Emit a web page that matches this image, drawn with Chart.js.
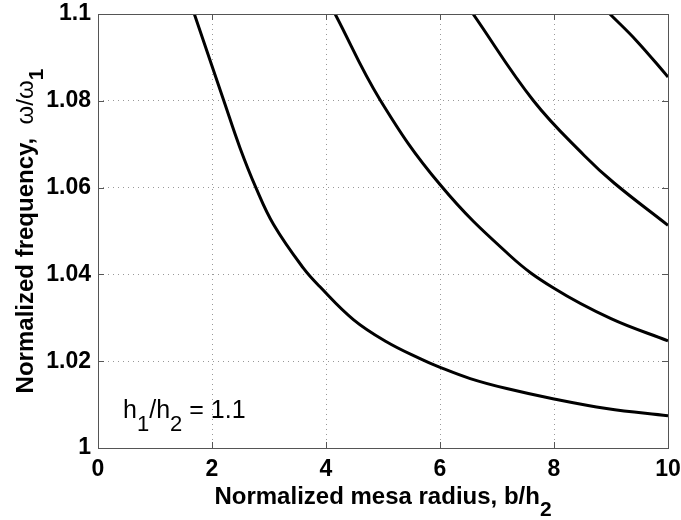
<!DOCTYPE html>
<html>
<head>
<meta charset="utf-8">
<script src="https://cdn.jsdelivr.net/npm/chart.js@4.4.0/dist/chart.umd.min.js"></script>
<style>
  html, body { margin: 0; padding: 0; background: #fff; }
</style>
</head>
<body>
<canvas id="modeChart" width="681" height="520"></canvas>
<script>
// normalized mesa radius b/h2 vs normalized frequency w/w1, one array pair per mode
const mode1X = [1.69, 2.0, 2.2, 2.49, 2.77, 3.08, 3.6, 3.89, 4.48, 5.06, 5.65, 5.98, 6.53, 7.17, 8.0, 8.92, 10];
const mode1Y = [1.1, 1.088, 1.0803, 1.0692, 1.06, 1.0515, 1.0415, 1.0372, 1.0296, 1.0245, 1.0206, 1.0187, 1.016, 1.0137, 1.0113, 1.0091, 1.0074];

const mode2X = [4.16, 4.95, 6.0, 7.23, 8.0, 9.0, 10];
const mode2Y = [1.1, 1.0802, 1.0607, 1.0443, 1.0368, 1.0298, 1.0247];

const mode3X = [6.58, 7.64, 8.53, 9.06, 10];
const mode3Y = [1.1, 1.08, 1.0674, 1.061, 1.0513];

const mode4X = [8.98, 9.45, 10];
const mode4Y = [1.1, 1.0938, 1.0855];

const xTicks = [0, 2, 4, 6, 8, 10];
const yTicks = [1, 1.02, 1.04, 1.06, 1.08, 1.1];

// text pieces: [text, isSubscript, weight]
const xTitle = [["Normalized mesa radius, b/h", false], ["2", true]];
const yTitle = [["Normalized frequency,  ", false], ["\u03c9/\u03c9", false, "normal"], ["1", true]];
const noteText = [["h", false], ["1", true], ["/h", false], ["2", true], [" = 1.1", false]];
const noteAt = { x: 0.44, y: 1.0068 };

const FONT = "'Liberation Sans', Arial, Helvetica, sans-serif";

function pairs(xs, ys) {
  return xs.map((x, i) => ({ x: x, y: ys[i] }));
}

function curve(xs, ys) {
  return {
    data: pairs(xs, ys),
    borderColor: "#000",
    borderWidth: 3,
    pointRadius: 0,
    tension: 0.4,
    fill: false,
  };
}

// draws text with lowered subscripts, starting at x (baseline y), returns the width
function drawParts(ctx, parts, x, y, size, subSize, drop, weight, measureOnly) {
  let w = 0;
  parts.forEach(([t, sub, wt]) => {
    ctx.font = (wt || weight) + " " + (sub ? subSize : size) + "px " + FONT;
    if (!measureOnly) ctx.fillText(t, x + w, sub ? y + drop : y);
    w += ctx.measureText(t).width;
  });
  return w;
}

// matlab style box with inward ticks, axis titles and the h1/h2 note
const boxPlugin = {
  id: "boxPlugin",
  afterDraw(chart) {
    const { ctx, chartArea: a, scales } = chart;
    const len = 6;
    ctx.save();
    ctx.strokeStyle = "#555";
    ctx.lineWidth = 1;
    ctx.setLineDash([]);
    ctx.beginPath();
    xTicks.forEach((v) => {
      const px = Math.round(scales.x.getPixelForValue(v)) + 0.5;
      ctx.moveTo(px, a.bottom); ctx.lineTo(px, a.bottom - len);
      ctx.moveTo(px, a.top); ctx.lineTo(px, a.top + len);
    });
    yTicks.forEach((v) => {
      const py = Math.round(scales.y.getPixelForValue(v)) + 0.5;
      ctx.moveTo(a.left, py); ctx.lineTo(a.left + len, py);
      ctx.moveTo(a.right, py); ctx.lineTo(a.right - len, py);
    });
    ctx.stroke();
    ctx.strokeRect(Math.round(a.left) + 0.5, Math.round(a.top) + 0.5,
      Math.round(a.right - a.left), Math.round(a.bottom - a.top));

    ctx.fillStyle = "#000";
    ctx.textBaseline = "alphabetic";
    ctx.textAlign = "left";

    // x title
    const cx = (a.left + a.right) / 2;
    let w = drawParts(ctx, xTitle, 0, 0, 24, 21, 12, "bold", true);
    drawParts(ctx, xTitle, cx - w / 2, 504, 24, 21, 12, "bold", false);

    // y title, rotated
    const cy = (a.top + a.bottom) / 2;
    ctx.save();
    ctx.translate(33, cy);
    ctx.rotate(-Math.PI / 2);
    w = drawParts(ctx, yTitle, 0, 0, 24, 21, 10, "bold", true);
    drawParts(ctx, yTitle, -w / 2, 0, 24, 21, 10, "bold", false);
    ctx.restore();

    // annotation
    const nx = scales.x.getPixelForValue(noteAt.x);
    const ny = scales.y.getPixelForValue(noteAt.y);
    drawParts(ctx, noteText, nx, ny, 25, 22, 13, "normal", false);
    ctx.restore();
  },
};

const ctx = document.getElementById("modeChart");
new Chart(ctx, {
  type: "line",
  data: {
    datasets: [
      curve(mode1X, mode1Y),
      curve(mode2X, mode2Y),
      curve(mode3X, mode3Y),
      curve(mode4X, mode4Y),
    ],
  },
  options: {
    responsive: false,
    animation: false,
    events: [],
    layout: {
      padding: { top: 14, right: 13, bottom: 0, left: 0 },
    },
    plugins: {
      legend: { display: false },
      tooltip: { enabled: false },
    },
    scales: {
      x: {
        type: "linear",
        min: 0,
        max: 10,
        afterBuildTicks: (s) => { s.ticks = xTicks.map((v) => ({ value: v })); },
        ticks: {
          color: "#000",
          padding: 10,
          maxRotation: 0,
          font: { family: FONT, size: 23, weight: "bold", lineHeight: 1 },
        },
        grid: { color: "#999", lineWidth: 1, drawTicks: false },
        border: { display: false, dash: [1, 4] },
        afterFit: (s) => {
          s.height = 72;
          s.paddingLeft = 0;
          s.paddingRight = 0;
        },
      },
      y: {
        type: "linear",
        min: 1,
        max: 1.1,
        afterBuildTicks: (s) => { s.ticks = yTicks.map((v) => ({ value: v })); },
        ticks: {
          color: "#000",
          padding: 7,
          font: { family: FONT, size: 23, weight: "bold", lineHeight: 1 },
          callback: (v) => String(Number(v.toFixed(2))),
        },
        grid: { color: "#999", lineWidth: 1, drawTicks: false },
        border: { display: false, dash: [1, 4] },
        afterFit: (s) => {
          s.width = 98;
          s.paddingTop = 0;
          s.paddingBottom = 0;
        },
      },
    },
  },
  plugins: [boxPlugin],
});
</script>
</body>
</html>
